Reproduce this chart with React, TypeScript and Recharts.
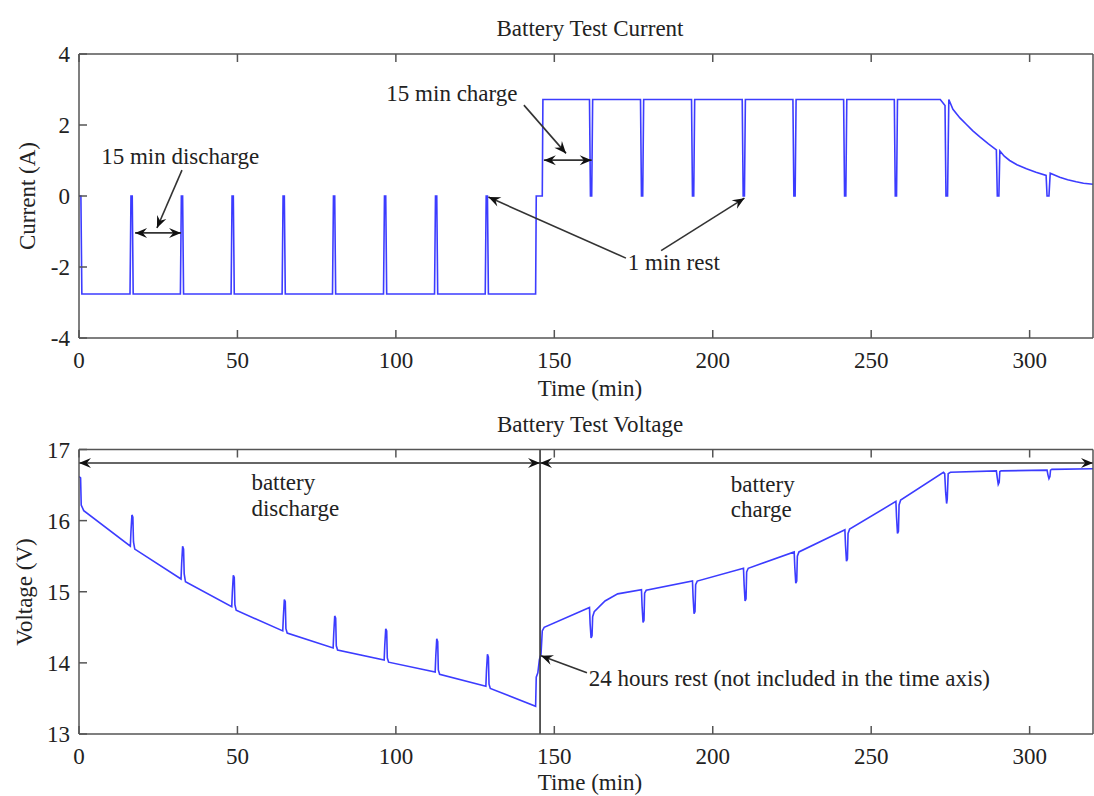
import React from 'react';
import { LineChart, Line, XAxis, YAxis, ReferenceLine, ReferenceDot } from 'recharts';

const FONT = '"Liberation Serif", "Times New Roman", Times, serif';
const TEXT = '#222';
const AXIS = '#555';
const BLUE = '#3c3cff';
const FS = 23;

const timeTicks = [0, 50, 100, 150, 200, 250, 300];
const currentTicks = [-4, -2, 0, 2, 4];
const voltageTicks = [13, 14, 15, 16, 17];

// Current (A) vs time (min)
const currentDischarge: [number, number][] = [
  [0, 0], [0.6, 0], [0.9, -2.76],
  [16.1, -2.76], [16.4, 0], [16.8, 0], [17.1, -2.76],
  [32.0, -2.76], [32.3, 0], [32.7, 0], [33.0, -2.76],
  [48.0, -2.76], [48.3, 0], [48.7, 0], [49.0, -2.76],
  [64.1, -2.76], [64.4, 0], [64.8, 0], [65.1, -2.76],
  [80.0, -2.76], [80.3, 0], [80.7, 0], [81.0, -2.76],
  [96.1, -2.76], [96.4, 0], [96.8, 0], [97.1, -2.76],
  [112.2, -2.76], [112.5, 0], [112.9, 0], [113.2, -2.76],
  [128.2, -2.76], [128.5, 0], [128.9, 0], [129.2, -2.76],
  [144.1, -2.76], [144.3, 0], [146.2, 0],
];
const currentCharge: [number, number][] = [
  [146.4, 2.72],
  [161.1, 2.72], [161.4, 0], [161.8, 0], [162.1, 2.72],
  [177.2, 2.72], [177.5, 0], [177.9, 0], [178.2, 2.72],
  [193.3, 2.72], [193.6, 0], [194.0, 0], [194.3, 2.72],
  [209.3, 2.72], [209.6, 0], [210.0, 0], [210.3, 2.72],
  [225.3, 2.72], [225.6, 0], [226.0, 0], [226.3, 2.72],
  [241.3, 2.72], [241.6, 0], [242.0, 0], [242.3, 2.72],
  [257.3, 2.72], [257.6, 0], [258.0, 0], [258.3, 2.72],
  [271.8, 2.72], [273.3, 2.55],
];
const currentTaper: [number, number][] = [
  [273.6, 0], [274.1, 0], [274.5, 2.72], [275.8, 2.44], [278, 2.2], [280, 2.02],
  [282, 1.84], [284.2, 1.67], [287, 1.47], [289.5, 1.3], [289.8, 0], [290.3, 0],
  [290.6, 1.27], [292, 1.12], [293.7, 1.0], [296, 0.88], [299, 0.77], [302, 0.67],
  [305.2, 0.58], [305.5, 0], [306.1, 0], [306.5, 0.64], [309.5, 0.53], [312, 0.46],
  [314.7, 0.4], [317, 0.36], [320, 0.33],
];

// Voltage (V) vs time (min)
const voltageDischarge: [number, number][] = [
  [0, 16.62], [0.5, 16.6], [0.7, 16.22], [1.5, 16.14], [16.2, 15.64],
  [16.4, 15.85], [16.7, 16.08], [17.0, 16.05], [17.2, 15.7], [17.6, 15.6],
  [32.2, 15.18],
  [32.4, 15.4], [32.7, 15.64], [33.0, 15.6], [33.2, 15.25], [33.6, 15.14],
  [48.2, 14.79],
  [48.4, 15.0], [48.7, 15.23], [49.0, 15.2], [49.2, 14.82], [49.6, 14.74],
  [64.3, 14.45],
  [64.5, 14.65], [64.8, 14.89], [65.1, 14.86], [65.3, 14.48], [65.7, 14.42],
  [80.2, 14.21],
  [80.4, 14.42], [80.7, 14.66], [81.0, 14.63], [81.2, 14.24], [81.6, 14.18],
  [96.3, 14.04],
  [96.5, 14.25], [96.8, 14.48], [97.1, 14.45], [97.3, 14.07], [97.7, 14.01],
  [112.4, 13.87],
  [112.6, 14.1], [112.9, 14.34], [113.2, 14.3], [113.4, 13.9], [113.8, 13.84],
  [128.4, 13.67],
  [128.6, 13.9], [128.9, 14.12], [129.2, 14.08], [129.4, 13.7], [129.8, 13.64],
  [144.1, 13.39],
];
const voltageRest: [number, number][] = [
  [144.3, 13.8], [144.8, 13.86], [145.3, 14.05], [145.8, 14.12], [146.2, 14.45], [146.8, 14.5],
];
const voltageCharge: [number, number][] = [
  [161.1, 14.78],
  [161.3, 14.55], [161.6, 14.35], [161.9, 14.38], [162.1, 14.65], [162.6, 14.72],
  [166, 14.87], [170, 14.97], [177.5, 15.03],
  [177.7, 14.8], [178.0, 14.57], [178.3, 14.6], [178.5, 14.98], [179, 15.02],
  [193.6, 15.15],
  [193.8, 14.92], [194.1, 14.69], [194.4, 14.72], [194.6, 15.1], [195.1, 15.15],
  [209.7, 15.33],
  [209.9, 15.1], [210.2, 14.87], [210.5, 14.9], [210.7, 15.28], [211.2, 15.33],
  [225.7, 15.56],
  [225.9, 15.34], [226.2, 15.12], [226.5, 15.15], [226.7, 15.5], [227.2, 15.56],
  [241.7, 15.87],
  [241.9, 15.65], [242.2, 15.43], [242.5, 15.46], [242.7, 15.82], [243.2, 15.88],
  [257.8, 16.27],
  [258.0, 16.05], [258.3, 15.82], [258.6, 15.85], [258.8, 16.22], [259.3, 16.29],
  [272.8, 16.68],
  [273.2, 16.66], [273.5, 16.4], [273.8, 16.24], [274.0, 16.3], [274.3, 16.66], [275, 16.68],
  [289.5, 16.7],
  [289.8, 16.6], [290.1, 16.51], [290.4, 16.54], [290.6, 16.69], [291, 16.7],
  [305.5, 16.71],
  [305.8, 16.64], [306.1, 16.59], [306.4, 16.62], [306.6, 16.71], [307, 16.72],
  [320, 16.73],
];

const toRows = (pts: [number, number][]) => pts.map(([t, v]) => ({ t, v }));
const currentData = toRows([...currentDischarge, ...currentCharge, ...currentTaper]);
const voltageData = toRows([...voltageDischarge, ...voltageRest, ...voltageCharge]);

function headPath(x: number, y: number, fx: number, fy: number, size = 12, half = 5) {
  const dx = x - fx;
  const dy = y - fy;
  const len = Math.hypot(dx, dy) || 1;
  const ux = dx / len;
  const uy = dy / len;
  const px = -uy;
  const py = ux;
  const bx = x - ux * size;
  const by = y - uy * size;
  const nx = x - ux * size * 0.65;
  const ny = y - uy * size * 0.65;
  return `M${x},${y} L${bx + px * half},${by + py * half} L${nx},${ny} L${bx - px * half},${by - py * half} Z`;
}

const arrowShape = (both: boolean) => (p: any) => {
  const { x1, y1, x2, y2 } = p;
  return (
    <g>
      <line x1={x1} y1={y1} x2={x2} y2={y2} stroke="#333" strokeWidth={1.6} />
      <path d={headPath(x2, y2, x1, y1)} fill="#111" />
      {both ? <path d={headPath(x1, y1, x2, y2)} fill="#111" /> : null}
    </g>
  );
};

const textShape = (label: string) => (p: any) => (
  <text x={p.cx} y={p.cy} dy="0.35em" fill={TEXT} fontFamily={FONT} fontSize={FS} textAnchor="start">
    {label}
  </text>
);

const BottomTick = (p: any) => (
  <g>
    <line x1={p.x} y1={p.y} x2={p.x} y2={p.y - 8} stroke={AXIS} strokeWidth={1.5} />
    <text x={p.x} y={p.y + 30} textAnchor="middle" fill={TEXT} fontFamily={FONT} fontSize={FS}>
      {p.payload.value}
    </text>
  </g>
);
const TopTick = (p: any) => (
  <line x1={p.x} y1={p.y} x2={p.x} y2={p.y + 8} stroke={AXIS} strokeWidth={1.5} />
);
const LeftTick = (p: any) => (
  <g>
    <line x1={p.x} y1={p.y} x2={p.x + 8} y2={p.y} stroke={AXIS} strokeWidth={1.5} />
    <text x={p.x - 9} y={p.y} dy="0.35em" textAnchor="end" fill={TEXT} fontFamily={FONT} fontSize={FS}>
      {p.payload.value}
    </text>
  </g>
);
const RightTick = (p: any) => (
  <line x1={p.x} y1={p.y} x2={p.x - 8} y2={p.y} stroke={AXIS} strokeWidth={1.5} />
);

const axisLine = { stroke: AXIS, strokeWidth: 1.5 };

export default function App() {
  const common = {
    type: 'number' as const,
    domain: [0, 320] as [number, number],
    ticks: timeTicks,
    allowDataOverflow: true,
    tickSize: 0,
    tickMargin: 0,
    tickLine: false,
    axisLine,
    interval: 0 as const,
  };
  return (
    <div style={{ position: 'absolute', left: 0, top: 0, width: 1094, height: 796, background: '#fff', overflow: 'hidden' }}>
      <div style={{ position: 'absolute', left: 0, top: 0 }}>
        <LineChart width={1094} height={400} data={currentData} margin={{ top: 53, right: 0, bottom: 0, left: 0 }}>
          <XAxis dataKey="t" {...common} height={62} tick={<BottomTick />} />
          <XAxis dataKey="t" xAxisId="top" orientation="top" {...common} height={1} tick={<TopTick />} />
          <YAxis type="number" domain={[-4, 4]} ticks={currentTicks} width={79} tickSize={0} tickMargin={0} tickLine={false} axisLine={axisLine} tick={<LeftTick />} interval={0} />
          <YAxis type="number" yAxisId="right" orientation="right" domain={[-4, 4]} ticks={currentTicks} width={1} tickSize={0} tickMargin={0} tickLine={false} axisLine={axisLine} tick={<RightTick />} interval={0} />
          <Line dataKey="v" type="linear" stroke={BLUE} strokeWidth={1.6} dot={false} isAnimationActive={false} />
          <ReferenceDot x={7.0} y={1.13} r={0} ifOverflow="visible" shape={textShape('15 min discharge')} />
          <ReferenceLine segment={[{ x: 32.5, y: 0.73 }, { x: 24.6, y: -0.9 }]} ifOverflow="visible" shape={arrowShape(false)} />
          <ReferenceLine segment={[{ x: 17.7, y: -1.04 }, { x: 32.2, y: -1.04 }]} ifOverflow="visible" shape={arrowShape(true)} />
          <ReferenceDot x={97.0} y={2.91} r={0} ifOverflow="visible" shape={textShape('15 min charge')} />
          <ReferenceLine segment={[{ x: 140.4, y: 2.56 }, { x: 153.7, y: 1.2 }]} ifOverflow="visible" shape={arrowShape(false)} />
          <ReferenceLine segment={[{ x: 146.7, y: 1.01 }, { x: 161.8, y: 1.01 }]} ifOverflow="visible" shape={arrowShape(true)} />
          <ReferenceDot x={173.2} y={-1.86} r={0} ifOverflow="visible" shape={textShape('1 min rest')} />
          <ReferenceLine segment={[{ x: 172.6, y: -1.75 }, { x: 129.2, y: -0.03 }]} ifOverflow="visible" shape={arrowShape(false)} />
          <ReferenceLine segment={[{ x: 183.7, y: -1.54 }, { x: 210, y: -0.06 }]} ifOverflow="visible" shape={arrowShape(false)} />
        </LineChart>
      </div>
      <div style={{ position: 'absolute', left: 0, top: 400 }}>
        <LineChart width={1094} height={396} data={voltageData} margin={{ top: 48.5, right: 0, bottom: 0, left: 0 }}>
          <XAxis dataKey="t" {...common} height={62} tick={<BottomTick />} />
          <XAxis dataKey="t" xAxisId="top" orientation="top" {...common} height={1} tick={<TopTick />} />
          <YAxis type="number" domain={[13, 17]} ticks={voltageTicks} width={79} tickSize={0} tickMargin={0} tickLine={false} axisLine={axisLine} tick={<LeftTick />} interval={0} />
          <YAxis type="number" yAxisId="right" orientation="right" domain={[13, 17]} ticks={voltageTicks} width={1} tickSize={0} tickMargin={0} tickLine={false} axisLine={axisLine} tick={<RightTick />} interval={0} />
          <Line dataKey="v" type="linear" stroke={BLUE} strokeWidth={1.6} dot={false} isAnimationActive={false} />
          <ReferenceLine x={145.5} stroke="#333" strokeWidth={1.6} ifOverflow="visible" />
          <ReferenceLine segment={[{ x: 0, y: 16.81 }, { x: 145.5, y: 16.81 }]} ifOverflow="visible" shape={arrowShape(true)} />
          <ReferenceLine segment={[{ x: 145.5, y: 16.81 }, { x: 320, y: 16.81 }]} ifOverflow="visible" shape={arrowShape(true)} />
          <ReferenceDot x={54.4} y={16.55} r={0} ifOverflow="visible" shape={textShape('battery')} />
          <ReferenceDot x={54.4} y={16.18} r={0} ifOverflow="visible" shape={textShape('discharge')} />
          <ReferenceDot x={205.7} y={16.51} r={0} ifOverflow="visible" shape={textShape('battery')} />
          <ReferenceDot x={205.7} y={16.16} r={0} ifOverflow="visible" shape={textShape('charge')} />
          <ReferenceDot x={160.9} y={13.79} r={0} ifOverflow="visible" shape={textShape('24 hours rest (not included in the time axis)')} />
          <ReferenceLine segment={[{ x: 160.3, y: 13.86 }, { x: 145.8, y: 14.1 }]} ifOverflow="visible" shape={arrowShape(false)} />
        </LineChart>
      </div>
      <svg width={1094} height={796} style={{ position: 'absolute', left: 0, top: 0, pointerEvents: 'none' }}>
        <g fontFamily={FONT} fontSize={FS} fill={TEXT}>
          <text x={590} y={36} textAnchor="middle">Battery Test Current</text>
          <text x={590} y={396} textAnchor="middle">Time (min)</text>
          <text x={590} y={432} textAnchor="middle">Battery Test Voltage</text>
          <text x={590} y={790} textAnchor="middle">Time (min)</text>
          <text x={27} y={196} dy="0.35em" textAnchor="middle" transform="rotate(-90 27 196)">Current (A)</text>
          <text x={24} y={592} dy="0.35em" textAnchor="middle" transform="rotate(-90 24 592)">Voltage (V)</text>
        </g>
      </svg>
    </div>
  );
}
